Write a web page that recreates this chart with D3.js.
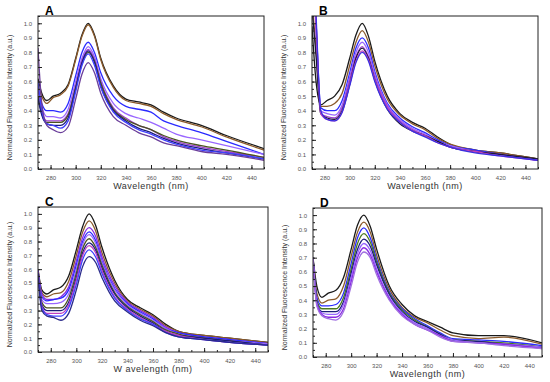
<!DOCTYPE html>
<html lang="en">
<head>
    <meta charset="UTF-8">
    <title>Normalized fluorescence spectra</title>
    <script src="https://d3js.org/d3.v7.min.js"></script>
    <style>
        body { margin: 0; background: #fff; }
        svg { display: block; font-family: Arial, "Liberation Sans", sans-serif; }
    </style>
</head>
<body>
<svg id="chart" width="550" height="382"></svg>
<script>
    const wavelengths = [270, 273, 277, 282, 288, 294, 300, 305, 310, 315, 320, 330, 340, 350, 360, 370, 380, 400, 420, 450];
    const xTicks = [280, 300, 320, 340, 360, 380, 400, 420, 440];
    const yTicks = [0.0, 0.1, 0.2, 0.3, 0.4, 0.5, 0.6, 0.7, 0.8, 0.9, 1.0];

    // panel A
    const seriesA = [
        [0.62, 0.52, 0.47, 0.50, 0.52, 0.58, 0.76, 0.92, 1.00, 0.92, 0.76, 0.57, 0.48, 0.46, 0.44, 0.39, 0.35, 0.30, 0.23, 0.14],
        [0.58, 0.50, 0.45, 0.49, 0.51, 0.57, 0.75, 0.91, 0.99, 0.91, 0.75, 0.56, 0.47, 0.45, 0.43, 0.38, 0.34, 0.29, 0.22, 0.13],
        [0.55, 0.45, 0.40, 0.40, 0.39, 0.45, 0.64, 0.80, 0.87, 0.80, 0.66, 0.50, 0.43, 0.41, 0.39, 0.33, 0.30, 0.25, 0.19, 0.10],
        [0.50, 0.42, 0.36, 0.36, 0.35, 0.41, 0.60, 0.76, 0.84, 0.77, 0.62, 0.45, 0.38, 0.35, 0.32, 0.28, 0.24, 0.20, 0.16, 0.10],
        [0.55, 0.40, 0.33, 0.33, 0.33, 0.38, 0.57, 0.74, 0.82, 0.75, 0.60, 0.42, 0.35, 0.30, 0.27, 0.22, 0.19, 0.15, 0.12, 0.08],
        [0.50, 0.38, 0.32, 0.32, 0.32, 0.37, 0.56, 0.72, 0.80, 0.74, 0.59, 0.41, 0.34, 0.30, 0.27, 0.23, 0.20, 0.16, 0.13, 0.08],
        [0.48, 0.37, 0.31, 0.30, 0.30, 0.35, 0.55, 0.73, 0.81, 0.73, 0.57, 0.40, 0.33, 0.28, 0.25, 0.21, 0.18, 0.14, 0.11, 0.07],
        [0.60, 0.40, 0.31, 0.30, 0.28, 0.33, 0.53, 0.71, 0.79, 0.71, 0.56, 0.39, 0.32, 0.27, 0.24, 0.20, 0.17, 0.13, 0.11, 0.07],
        [0.83, 0.45, 0.30, 0.27, 0.25, 0.29, 0.48, 0.65, 0.73, 0.66, 0.52, 0.36, 0.30, 0.25, 0.22, 0.18, 0.16, 0.12, 0.10, 0.06]
    ];
    const colorsA = ["#1a1a1a", "#8b5a2b", "#2a2aff", "#9966ff", "#a040d0", "#4b5320", "#1c1c7a", "#4040ff", "#6a3d9a"];

    // panel B
    const seriesB = [
        [0.98, 0.62, 0.44, 0.47, 0.50, 0.58, 0.76, 0.92, 1.00, 0.91, 0.74, 0.50, 0.38, 0.32, 0.28, 0.22, 0.17, 0.13, 0.11, 0.07],
        [1.15, 0.85, 0.43, 0.43, 0.45, 0.52, 0.71, 0.87, 0.95, 0.87, 0.71, 0.48, 0.37, 0.31, 0.27, 0.21, 0.17, 0.13, 0.11, 0.07],
        [1.50, 1.05, 0.42, 0.40, 0.40, 0.47, 0.66, 0.83, 0.90, 0.83, 0.67, 0.45, 0.35, 0.29, 0.25, 0.20, 0.16, 0.13, 0.10, 0.06],
        [1.50, 1.00, 0.40, 0.38, 0.37, 0.44, 0.63, 0.80, 0.87, 0.80, 0.65, 0.44, 0.34, 0.28, 0.24, 0.19, 0.16, 0.12, 0.10, 0.06],
        [1.50, 1.00, 0.38, 0.36, 0.35, 0.42, 0.61, 0.77, 0.84, 0.77, 0.63, 0.43, 0.33, 0.27, 0.23, 0.19, 0.15, 0.12, 0.10, 0.06],
        [1.10, 0.80, 0.38, 0.35, 0.34, 0.40, 0.58, 0.76, 0.83, 0.76, 0.61, 0.41, 0.31, 0.26, 0.23, 0.19, 0.15, 0.12, 0.10, 0.07],
        [1.50, 1.05, 0.38, 0.34, 0.33, 0.39, 0.58, 0.74, 0.81, 0.75, 0.61, 0.42, 0.32, 0.26, 0.23, 0.18, 0.15, 0.12, 0.09, 0.06],
        [1.60, 1.10, 0.40, 0.34, 0.33, 0.39, 0.57, 0.73, 0.80, 0.74, 0.60, 0.41, 0.32, 0.26, 0.22, 0.18, 0.15, 0.11, 0.09, 0.06]
    ];
    const colorsB = ["#1a1a1a", "#8b5a2b", "#2a2aff", "#9966ff", "#a040d0", "#1a1a3a", "#c040c0", "#3a30e0"];

    // panel C
    const seriesC = [
        [0.60, 0.45, 0.42, 0.45, 0.47, 0.55, 0.74, 0.91, 1.00, 0.92, 0.76, 0.52, 0.38, 0.32, 0.27, 0.20, 0.15, 0.12, 0.10, 0.07],
        [0.60, 0.43, 0.40, 0.42, 0.43, 0.51, 0.70, 0.87, 0.95, 0.88, 0.72, 0.50, 0.37, 0.31, 0.26, 0.19, 0.15, 0.12, 0.10, 0.07],
        [0.59, 0.42, 0.38, 0.38, 0.40, 0.47, 0.66, 0.83, 0.90, 0.84, 0.69, 0.48, 0.36, 0.30, 0.25, 0.18, 0.14, 0.11, 0.09, 0.06],
        [0.59, 0.40, 0.37, 0.38, 0.39, 0.45, 0.63, 0.80, 0.87, 0.81, 0.66, 0.46, 0.35, 0.29, 0.24, 0.17, 0.14, 0.11, 0.09, 0.06],
        [0.58, 0.38, 0.35, 0.35, 0.36, 0.42, 0.60, 0.78, 0.85, 0.79, 0.65, 0.45, 0.34, 0.28, 0.23, 0.17, 0.13, 0.10, 0.08, 0.06],
        [0.58, 0.36, 0.32, 0.32, 0.32, 0.39, 0.57, 0.75, 0.82, 0.76, 0.63, 0.43, 0.33, 0.27, 0.22, 0.16, 0.13, 0.10, 0.08, 0.05],
        [0.58, 0.34, 0.30, 0.30, 0.30, 0.36, 0.54, 0.72, 0.79, 0.74, 0.61, 0.42, 0.32, 0.26, 0.21, 0.15, 0.12, 0.10, 0.08, 0.05],
        [0.58, 0.33, 0.28, 0.28, 0.28, 0.34, 0.52, 0.70, 0.77, 0.72, 0.59, 0.40, 0.31, 0.25, 0.20, 0.15, 0.12, 0.09, 0.07, 0.05],
        [0.57, 0.32, 0.27, 0.26, 0.26, 0.32, 0.49, 0.67, 0.74, 0.69, 0.57, 0.39, 0.30, 0.24, 0.20, 0.14, 0.11, 0.09, 0.07, 0.05],
        [0.57, 0.30, 0.26, 0.25, 0.23, 0.28, 0.45, 0.62, 0.69, 0.65, 0.54, 0.37, 0.29, 0.23, 0.19, 0.14, 0.11, 0.09, 0.07, 0.05]
    ];
    const colorsC = ["#1a1a1a", "#8b5a2b", "#8a2be2", "#2a2aff", "#9966ff", "#4b5320", "#1c1c7a", "#c040c0", "#4040ff", "#2a2a8a"];

    // panel D
    const seriesD = [
        [0.70, 0.50, 0.42, 0.45, 0.47, 0.56, 0.76, 0.93, 1.00, 0.92, 0.76, 0.50, 0.37, 0.29, 0.25, 0.21, 0.17, 0.15, 0.15, 0.10],
        [0.70, 0.45, 0.38, 0.40, 0.41, 0.50, 0.71, 0.88, 0.95, 0.88, 0.72, 0.48, 0.35, 0.28, 0.24, 0.19, 0.15, 0.13, 0.14, 0.09],
        [0.70, 0.42, 0.36, 0.36, 0.37, 0.45, 0.66, 0.84, 0.91, 0.84, 0.69, 0.46, 0.34, 0.27, 0.22, 0.17, 0.13, 0.12, 0.11, 0.08],
        [0.70, 0.40, 0.34, 0.34, 0.34, 0.42, 0.62, 0.80, 0.87, 0.81, 0.67, 0.45, 0.33, 0.26, 0.21, 0.16, 0.12, 0.11, 0.10, 0.07],
        [0.70, 0.39, 0.32, 0.32, 0.32, 0.39, 0.59, 0.76, 0.83, 0.78, 0.65, 0.44, 0.32, 0.25, 0.21, 0.16, 0.12, 0.11, 0.09, 0.07],
        [0.70, 0.38, 0.31, 0.30, 0.30, 0.37, 0.56, 0.73, 0.80, 0.75, 0.62, 0.42, 0.31, 0.24, 0.20, 0.15, 0.12, 0.10, 0.09, 0.07],
        [0.70, 0.37, 0.30, 0.28, 0.28, 0.34, 0.53, 0.70, 0.77, 0.72, 0.60, 0.41, 0.30, 0.23, 0.19, 0.15, 0.11, 0.10, 0.09, 0.06],
        [0.70, 0.36, 0.29, 0.27, 0.26, 0.32, 0.50, 0.67, 0.74, 0.70, 0.58, 0.40, 0.29, 0.23, 0.19, 0.14, 0.11, 0.10, 0.08, 0.06]
    ];
    const colorsD = ["#1a1a1a", "#8b5a2b", "#2a2aff", "#4b7a20", "#1c1c7a", "#9966ff", "#8a2be2", "#a070e0"];

    const panels = [
        {letter: "A", series: seriesA, colors: colorsA, left: 38, top: 16, right: 264, bottom: 169, xlabel: "Wavelength (nm)"},
        {letter: "B", series: seriesB, colors: colorsB, left: 312, top: 16, right: 538, bottom: 169, xlabel: "Wavelength (nm)"},
        {letter: "C", series: seriesC, colors: colorsC, left: 38, top: 207, right: 268, bottom: 352, xlabel: "W avelength (nm)"},
        {letter: "D", series: seriesD, colors: colorsD, left: 313, top: 208, right: 542, bottom: 357, xlabel: "Wavelength (nm)"}
    ];

    var svg = d3.select("#chart");

    panels.forEach(function (p, i) {
        var x = d3.scaleLinear().domain([270, 450]).range([p.left, p.right]);
        var y = d3.scaleLinear().domain([0, 1.05]).range([p.bottom, p.top]);
        var g = svg.append("g");

        var clipId = "clip" + i;
        g.append("clipPath").attr("id", clipId)
            .append("rect")
            .attr("x", p.left).attr("y", p.top)
            .attr("width", p.right - p.left).attr("height", p.bottom - p.top);

        // spectra
        var line = d3.line()
            .x(function (d, j) { return x(wavelengths[j]); })
            .y(function (d) { return y(d); })
            .curve(d3.curveMonotoneX);
        g.append("g").attr("clip-path", "url(#" + clipId + ")")
            .selectAll("path")
            .data(p.series)
            .enter().append("path")
            .attr("d", line)
            .attr("fill", "none")
            .attr("stroke", function (d, j) { return p.colors[j]; })
            .attr("stroke-width", 1.3);

        // axes with inward ticks
        var xMinor = d3.range(270, 451, 10);
        g.append("g")
            .attr("transform", "translate(0," + p.bottom + ")")
            .call(d3.axisBottom(x).tickValues(xMinor).tickSize(-2).tickFormat(""))
            .call(function (a) { a.select(".domain").remove(); });
        g.append("g")
            .attr("transform", "translate(0," + p.bottom + ")")
            .call(d3.axisBottom(x).tickValues(xTicks).tickSize(-4).tickPadding(7).tickFormat(d3.format("d")))
            .call(function (a) { a.select(".domain").remove(); });

        var yMinor = d3.range(0, 1.051, 0.05);
        g.append("g")
            .attr("transform", "translate(" + p.left + ",0)")
            .call(d3.axisLeft(y).tickValues(yMinor).tickSize(-2).tickFormat(""))
            .call(function (a) { a.select(".domain").remove(); });
        g.append("g")
            .attr("transform", "translate(" + p.left + ",0)")
            .call(d3.axisLeft(y).tickValues(yTicks).tickSize(-4).tickPadding(6).tickFormat(d3.format(".1f")))
            .call(function (a) { a.select(".domain").remove(); });

        g.selectAll(".tick line").attr("stroke", "#222");
        g.selectAll(".tick text").attr("fill", "#555").style("font-size", "6px");

        // frame
        g.append("rect")
            .attr("x", p.left).attr("y", p.top)
            .attr("width", p.right - p.left).attr("height", p.bottom - p.top)
            .attr("fill", "none").attr("stroke", "#222").attr("stroke-width", 1);

        // labels
        g.append("text")
            .attr("x", p.left + 7).attr("y", p.top - 1)
            .style("font-size", "12px").style("font-weight", "bold")
            .text(p.letter);
        g.append("text")
            .attr("x", (p.left + p.right) / 2).attr("y", p.bottom + 20)
            .attr("text-anchor", "middle")
            .style("font-size", "9px").style("letter-spacing", "0.5px")
            .attr("fill", "#333")
            .text(p.xlabel);
        g.append("text")
            .attr("transform", "translate(" + (p.left - 26) + "," + ((p.top + p.bottom) / 2 + 5) + ")rotate(-90)")
            .attr("text-anchor", "middle")
            .style("font-size", "7px")
            .attr("fill", "#333")
            .text("Normalized Fluorescence Intensity (a.u.)");
    });
</script>
</body>
</html>
